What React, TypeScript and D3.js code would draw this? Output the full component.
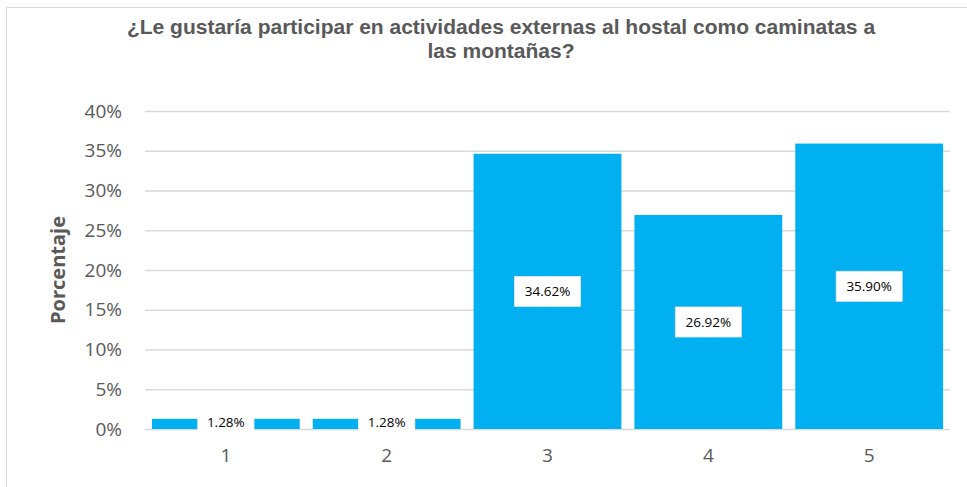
import { useEffect, useRef } from "react";
import * as d3 from "d3";

const categories = ["1", "2", "3", "4", "5"];
const percentages = [1.28, 1.28, 34.62, 26.92, 35.9];
const labels = ["1.28%", "1.28%", "34.62%", "26.92%", "35.90%"];
const yTicks = [0, 5, 10, 15, 20, 25, 30, 35, 40];
const titleLines = [
  "¿Le gustaría participar en actividades externas al hostal como caminatas a",
  "las montañas?",
];

export default function App() {
  const svgRef = useRef<SVGSVGElement | null>(null);

  useEffect(() => {
    const width = 967;
    const height = 487;
    const svg = d3.select(svgRef.current);
    svg.selectAll("*").remove(); // clean before drawing

    svg.attr("width", width).attr("height", height);

    const grey = "#595959";
    const bodyFont = "'Open Sans', sans-serif";

    // chart border
    svg
      .append("rect")
      .attr("x", 6.5)
      .attr("y", 7.5)
      .attr("width", 990)
      .attr("height", 500)
      .attr("fill", "#fff")
      .attr("stroke", "#d9d9d9");

    const x = d3
      .scaleBand()
      .domain(categories)
      .range([145, 950])
      .paddingInner(0.081)
      .paddingOuter(0.043);

    const y = d3.scaleLinear().domain([0, 40]).range([429, 111]);

    // title
    svg
      .append("g")
      .selectAll("text")
      .data(titleLines)
      .join("text")
      .attr("x", 501)
      .attr("y", (_, i) => 34 + i * 24)
      .attr("text-anchor", "middle")
      .attr("font-family", "'Liberation Sans', Arial, sans-serif")
      .attr("font-weight", "bold")
      .attr("font-size", 21)
      .attr("fill", grey)
      .text((d) => d);

    // gridlines + y labels
    const yAxis = svg
      .append("g")
      .attr("transform", `translate(145,0)`)
      .call(
        d3
          .axisLeft(y)
          .tickValues(yTicks)
          .tickSize(-805)
          .tickPadding(23)
          .tickFormat((d) => `${d}%`)
      );
    yAxis.select(".domain").remove();
    yAxis.selectAll(".tick line").attr("stroke", "#d9d9d9").attr("stroke-width", 1.5);
    yAxis
      .selectAll(".tick text")
      .attr("font-family", bodyFont)
      .attr("font-size", 19)
      .attr("fill", grey);

    // bars
    svg
      .append("g")
      .selectAll("rect")
      .data(percentages)
      .join("rect")
      .attr("x", (_, i) => x(categories[i]) as number)
      .attr("y", (d) => y(d))
      .attr("width", x.bandwidth())
      .attr("height", (d) => y(0) - y(d))
      .attr("fill", "#00B0F0");

    // x labels
    const xAxis = svg
      .append("g")
      .attr("transform", `translate(0,429)`)
      .call(d3.axisBottom(x).tickSize(0).tickPadding(20));
    xAxis.select(".domain").remove();
    xAxis
      .selectAll(".tick text")
      .attr("font-family", bodyFont)
      .attr("font-size", 19)
      .attr("fill", grey);

    // data labels in white boxes, centred on each bar
    const lbl = svg
      .append("g")
      .selectAll("g")
      .data(percentages)
      .join("g")
      .attr("transform", (d, i) => {
        const cx = (x(categories[i]) as number) + x.bandwidth() / 2;
        const cy = Math.min((y(d) + y(0)) / 2, 422);
        return `translate(${cx},${cy})`;
      });

    lbl
      .append("rect")
      .attr("x", (_, i) => (labels[i].length > 5 ? -33 : -28.5))
      .attr("y", -15)
      .attr("width", (_, i) => (labels[i].length > 5 ? 66 : 57))
      .attr("height", 30)
      .attr("fill", "#fff")
      .attr("stroke", (d) => (d > 5 ? "#e6e6e6" : "none"))
      .attr("stroke-width", 0.8);

    lbl
      .append("text")
      .attr("text-anchor", "middle")
      .attr("dy", "0.35em")
      .attr("font-family", bodyFont)
      .attr("font-size", 13.5)
      .attr("fill", "#000")
      .text((_, i) => labels[i]);

    // y axis title
    svg
      .append("text")
      .attr("transform", "translate(65,270) rotate(-90)")
      .attr("text-anchor", "middle")
      .attr("font-family", bodyFont)
      .attr("font-weight", "bold")
      .attr("font-size", 20)
      .attr("fill", grey)
      .text("Porcentaje");
  }, []);

  return (
    <svg
      ref={svgRef}
      style={{ position: "absolute", left: 0, top: 0, display: "block" }}
    ></svg>
  );
}
